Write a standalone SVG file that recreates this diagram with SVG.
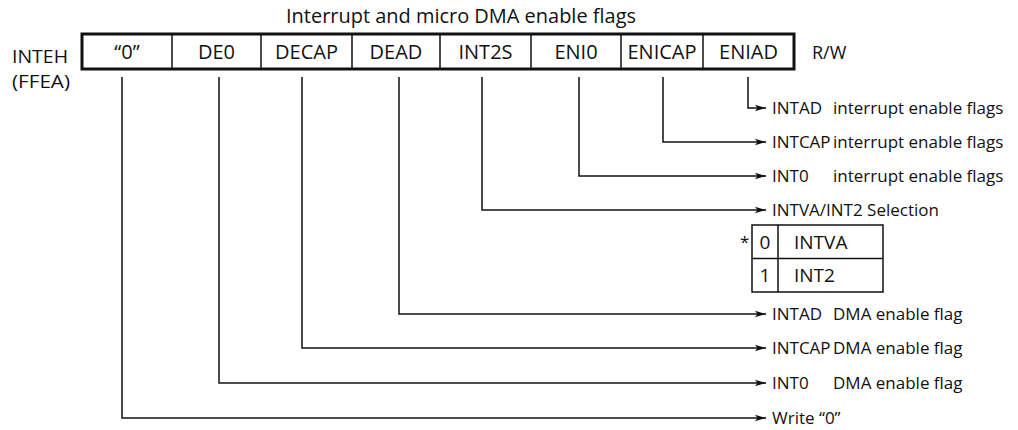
<svg xmlns="http://www.w3.org/2000/svg" width="1018" height="430" viewBox="0 0 1018 430">
<style>
text{font-family:"Open Sans","Noto Sans","Liberation Sans",sans-serif;fill:#111}
.t20{font-size:20px}
.t18{font-size:18px}
.t17{font-size:17px}
.t19{font-size:19px}
.c{text-anchor:middle}
.box{fill:none;stroke:#111;stroke-width:3}
.div{stroke:#111;stroke-width:1.5}
.con{fill:none;stroke:#111;stroke-width:1.5}
</style>
<defs>
<marker id="ah" markerWidth="12" markerHeight="8" refX="11" refY="4" orient="auto" markerUnits="userSpaceOnUse">
<path d="M0,0.8 L11,4 L0,7.2 L2.5,4 Z" fill="#111"/>
</marker>
</defs>
<rect width="1018" height="430" fill="#fff"/>
<text id="title" class="t20" x="286" y="23" textLength="350" lengthAdjust="spacingAndGlyphs">Interrupt and micro DMA enable flags</text>
<g id="regname">
<text class="t18" x="12" y="63" textLength="56" lengthAdjust="spacingAndGlyphs">INTEH</text>
<text class="t18" x="12" y="88" textLength="58" lengthAdjust="spacingAndGlyphs">(FFEA)</text>
</g>
<g id="register">
<rect class="box" x="82" y="34" width="712" height="35"/>
<line class="div" x1="172" y1="34" x2="172" y2="69"/>
<line class="div" x1="261" y1="34" x2="261" y2="69"/>
<line class="div" x1="352" y1="34" x2="352" y2="69"/>
<line class="div" x1="440" y1="34" x2="440" y2="69"/>
<line class="div" x1="531" y1="34" x2="531" y2="69"/>
<line class="div" x1="621" y1="34" x2="621" y2="69"/>
<line class="div" x1="703" y1="34" x2="703" y2="69"/>
<text class="t20 c" x="127" y="59">“0”</text>
<text class="t20 c" x="216.5" y="59">DE0</text>
<text class="t20 c" x="306.5" y="59">DECAP</text>
<text class="t20 c" x="396" y="59">DEAD</text>
<text class="t20 c" x="485.5" y="59">INT2S</text>
<text class="t20 c" x="576" y="59">ENI0</text>
<text class="t20 c" x="662" y="59">ENICAP</text>
<text class="t20 c" x="748.5" y="59">ENIAD</text>
</g>
<text id="rw" class="t18" x="812" y="59">R/W</text>
<g id="connectors">
<polyline class="con" marker-end="url(#ah)" points="748,77 748,108 766,108"/>
<polyline class="con" marker-end="url(#ah)" points="663,77 663,142 766,142"/>
<polyline class="con" marker-end="url(#ah)" points="579,77 579,176 766,176"/>
<polyline class="con" marker-end="url(#ah)" points="482,77 482,210 766,210"/>
<polyline class="con" marker-end="url(#ah)" points="399,77 399,314 766,314"/>
<polyline class="con" marker-end="url(#ah)" points="302,77 302,348 766,348"/>
<polyline class="con" marker-end="url(#ah)" points="219,77 219,383 766,383"/>
<polyline class="con" marker-end="url(#ah)" points="122,77 122,418 766,418"/>
</g>
<g id="lbl-intad-int"><text class="t17" x="772" y="114">INTAD</text><text class="t17" x="833" y="114">interrupt enable flags</text></g>
<g id="lbl-intcap-int"><text class="t17" x="772" y="148">INTCAP</text><text class="t17" x="833" y="148">interrupt enable flags</text></g>
<g id="lbl-int0-int"><text class="t17" x="772" y="182">INT0</text><text class="t17" x="833" y="182">interrupt enable flags</text></g>
<g id="lbl-sel"><text class="t17" x="772" y="216">INTVA/INT2 Selection</text></g>
<g id="sel-table">
<rect x="752" y="225" width="131" height="67" fill="none" stroke="#111" stroke-width="1.5"/>
<line class="div" x1="752" y1="258.5" x2="883" y2="258.5"/>
<line class="div" x1="778" y1="225" x2="778" y2="292"/>
<text class="t17" x="740" y="248">*</text>
<text class="t19 c" x="765" y="249">0</text>
<text class="t19" x="794" y="249">INTVA</text>
<text class="t19 c" x="765" y="282">1</text>
<text class="t19" x="794" y="282">INT2</text>
</g>
<g id="lbl-intad-dma"><text class="t17" x="772" y="320">INTAD</text><text class="t17" x="833" y="320">DMA enable flag</text></g>
<g id="lbl-intcap-dma"><text class="t17" x="772" y="354">INTCAP</text><text class="t17" x="833" y="354">DMA enable flag</text></g>
<g id="lbl-int0-dma"><text class="t17" x="772" y="389">INT0</text><text class="t17" x="833" y="389">DMA enable flag</text></g>
<g id="lbl-write"><text class="t17" x="772" y="424">Write “0”</text></g>
</svg>
